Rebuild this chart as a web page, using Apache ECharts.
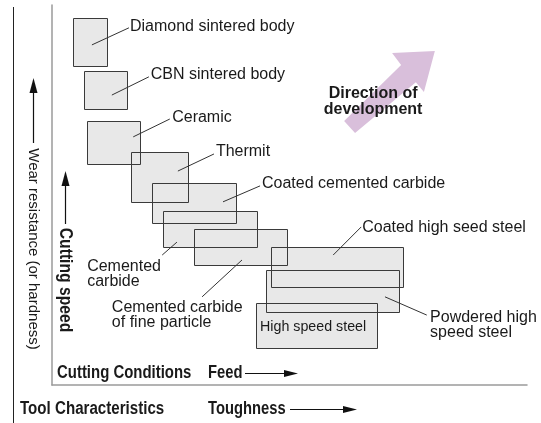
<!DOCTYPE html>
<html>
<head>
<meta charset="utf-8">
<script src="https://cdn.jsdelivr.net/npm/echarts@6/dist/echarts.min.js"></script>
<style>html,body{margin:0;padding:0;background:#fff}#c{width:541px;height:423px}</style>
</head>
<body>
<div id="c"></div>
<script>
// Tool materials (toughness on x, wear resistance on y, relative 0-100 units)
const materials = ['Diamond sintered body','CBN sintered body','Ceramic','Thermit','Coated cemented carbide','Cemented carbide','Cemented carbide of fine particle','Coated high seed steel','Powdered high speed steel','High speed steel'];
const toughMin = [4.4, 6.7, 7.4, 16.6, 21.1, 23.4, 29.9, 46.1, 45.1, 42.9];
const toughMax = [11.6, 15.8, 18.5, 28.6, 38.7, 43.2, 49.5, 73.9, 73.1, 68.4];
const wearMin  = [83.9, 72.6, 58.2, 48.2, 42.6, 36.3, 31.6, 25.8, 19.2, 9.7];
const wearMax  = [96.6, 82.6, 69.5, 61.3, 53.2, 45.8, 41.1, 36.3, 30.3, 21.6];

// Label texts and their anchors (x: toughness, y: wear)
const labelText = ['Diamond sintered body','CBN sintered body','Ceramic','Thermit','Coated cemented carbide','Cemented\ncarbide','Cemented carbide\nof fine particle','Coated high seed steel','Powdered high\nspeed steel','High speed steel'];
const labelX = [16.4, 20.8, 25.3, 34.5, 44.2, 7.4, 12.6, 65.3, 79.6, 43.8];
const labelY = [94.2, 81.6, 70.3, 61.3, 52.9, 29.2, 18.4, 41.3, 15.8, 15.3];

// Leader lines: from box interior to label
const leadFromX = [8.4, 12.6, 17.1, 26.5, 36.0, 26.3, 40.0, 59.2, 70.1];
const leadFromY = [89.5, 76.3, 65.3, 56.3, 48.2, 37.6, 32.9, 34.2, 23.2];
const leadToX   = [16.2, 20.4, 24.8, 34.1, 43.8, 23.2, 31.6, 65.1, 78.9];
const leadToY   = [94.0, 81.1, 70.0, 60.8, 52.4, 34.2, 23.2, 41.6, 18.4];

// Direction-of-development arrow outline
const arrowX = [61.5, 63.8, 76.6, 78.3, 80.6, 71.6, 73.5];
const arrowY = [69.5, 66.3, 79.7, 77.1, 87.9, 87.4, 84.2];
const directionText = 'Direction of\ndevelopment';
const directionPos = [67.6, 74.5];

const FONT = '"Liberation Sans", Arial, sans-serif';
const chart = echarts.init(document.getElementById('c'), null, {renderer: 'canvas'});

function crisp(v){ return Math.round(v) + 0.5; }

const boxData = materials.map((m, i) => [toughMin[i], toughMax[i], wearMin[i], wearMax[i]]);

function boxRender(fillMode){
  return function(params, api){
    const p0 = api.coord([api.value(0), api.value(3)]);
    const p1 = api.coord([api.value(1), api.value(2)]);
    const x0 = crisp(p0[0]), y0 = crisp(p0[1]), x1 = crisp(p1[0]), y1 = crisp(p1[1]);
    return {
      type: 'rect',
      shape: {x: x0, y: y0, width: x1 - x0, height: y1 - y0},
      style: fillMode ? {fill: '#e8e8e8', stroke: null} : {fill: null, stroke: '#3a3a3a', lineWidth: 1}
    };
  };
}

function boldText(txt, x, y, sx, rot){
  return {type: 'text', x: x, y: y, rotation: rot || 0, scaleX: sx, style: {text: txt, font: 'bold 18px ' + FONT, fill: '#1a1a1a', align: rot ? 'center' : 'left', verticalAlign: 'middle'}};
}

const option = {
  animation: false,
  backgroundColor: '#fff',
  grid: {left: 52, right: 14, top: 5, bottom: 38},
  xAxis: {type: 'value', min: 0, max: 100, axisLine: {show: true, lineStyle: {color: '#9a9a9a', width: 1.5}}, axisTick: {show: false}, axisLabel: {show: false}, splitLine: {show: false}},
  yAxis: {type: 'value', min: 0, max: 100, axisLine: {show: true, lineStyle: {color: '#9a9a9a', width: 1.5}}, axisTick: {show: false}, axisLabel: {show: false}, splitLine: {show: false}},
  series: [
    {
      type: 'custom', z: 1, silent: true,
      data: [[arrowX[0], arrowY[0]]],
      encode: {x: 0, y: 1},
      renderItem: function(params, api){
        const pts = arrowX.map((x, i) => api.coord([x, arrowY[i]]));
        const c = api.coord(directionPos);
        return {type: 'group', children: [
          {type: 'polygon', shape: {points: pts}, style: {fill: '#d9bfdb', stroke: null}},
          {type: 'text', x: c[0], y: c[1], style: {text: directionText, font: 'bold 16px ' + FONT, fill: '#1a1a1a', align: 'center', verticalAlign: 'middle', lineHeight: 16}}
        ]};
      }
    },
    {type: 'custom', z: 2, silent: true, data: boxData, encode: {x: [0, 1], y: [2, 3]}, renderItem: boxRender(true)},
    {type: 'custom', z: 3, silent: true, data: boxData, encode: {x: [0, 1], y: [2, 3]}, renderItem: boxRender(false)},
    {
      type: 'custom', z: 4, silent: true,
      data: leadFromX.map((x, i) => [x, leadFromY[i], leadToX[i], leadToY[i]]),
      encode: {x: [0, 2], y: [1, 3]},
      renderItem: function(params, api){
        const a = api.coord([api.value(0), api.value(1)]);
        const b = api.coord([api.value(2), api.value(3)]);
        return {type: 'line', shape: {x1: a[0], y1: a[1], x2: b[0], y2: b[1]}, style: {stroke: '#333', lineWidth: 1}};
      }
    },
    {
      type: 'custom', z: 5, silent: true,
      data: labelX.map((x, i) => [x, labelY[i], i]),
      encode: {x: 0, y: 1},
      renderItem: function(params, api){
        const i = api.value(2);
        const p = api.coord([api.value(0), api.value(1)]);
        const inBox = i === 9;
        return {type: 'text', x: p[0], y: p[1], scaleX: inBox ? 0.95 : 1, style: {text: labelText[i], font: (inBox ? '15px ' : '16px ') + FONT, fill: '#1a1a1a', align: 'left', verticalAlign: 'middle', lineHeight: 15}};
      }
    }
  ],
  graphic: [
    {type: 'line', shape: {x1: 13.5, y1: 7, x2: 13.5, y2: 423}, style: {stroke: '#222', lineWidth: 1}},
    {type: 'line', shape: {x1: 33.5, y1: 143, x2: 33.5, y2: 88}, style: {stroke: '#111', lineWidth: 1.2}},
    {type: 'polygon', shape: {points: [[33.5, 78], [29.5, 93], [37.5, 93]]}, style: {fill: '#111'}},
    {type: 'text', x: 33, y: 249, rotation: -Math.PI / 2, style: {text: 'Wear resistance (or hardness)', font: '15px ' + FONT, fill: '#1a1a1a', align: 'center', verticalAlign: 'middle'}},
    {type: 'line', shape: {x1: 65.5, y1: 224, x2: 65.5, y2: 180}, style: {stroke: '#111', lineWidth: 1.2}},
    {type: 'polygon', shape: {points: [[65.5, 171], [61.5, 186], [69.5, 186]]}, style: {fill: '#111'}},
    boldText('Cutting speed', 65, 280, 0.87, -Math.PI / 2),
    boldText('Cutting Conditions', 57, 373, 0.83),
    boldText('Feed', 208, 373, 0.82),
    {type: 'line', shape: {x1: 245, y1: 373.5, x2: 288, y2: 373.5}, style: {stroke: '#111', lineWidth: 1.2}},
    {type: 'polygon', shape: {points: [[298, 373.5], [284, 370], [284, 377]]}, style: {fill: '#111'}},
    boldText('Tool Characteristics', 20, 409, 0.84),
    boldText('Toughness', 208, 409, 0.82),
    {type: 'line', shape: {x1: 290, y1: 409.5, x2: 347, y2: 409.5}, style: {stroke: '#111', lineWidth: 1.2}},
    {type: 'polygon', shape: {points: [[357, 409.5], [343, 406], [343, 413]]}, style: {fill: '#111'}}
  ]
};
chart.setOption(option);
</script>
</body>
</html>
